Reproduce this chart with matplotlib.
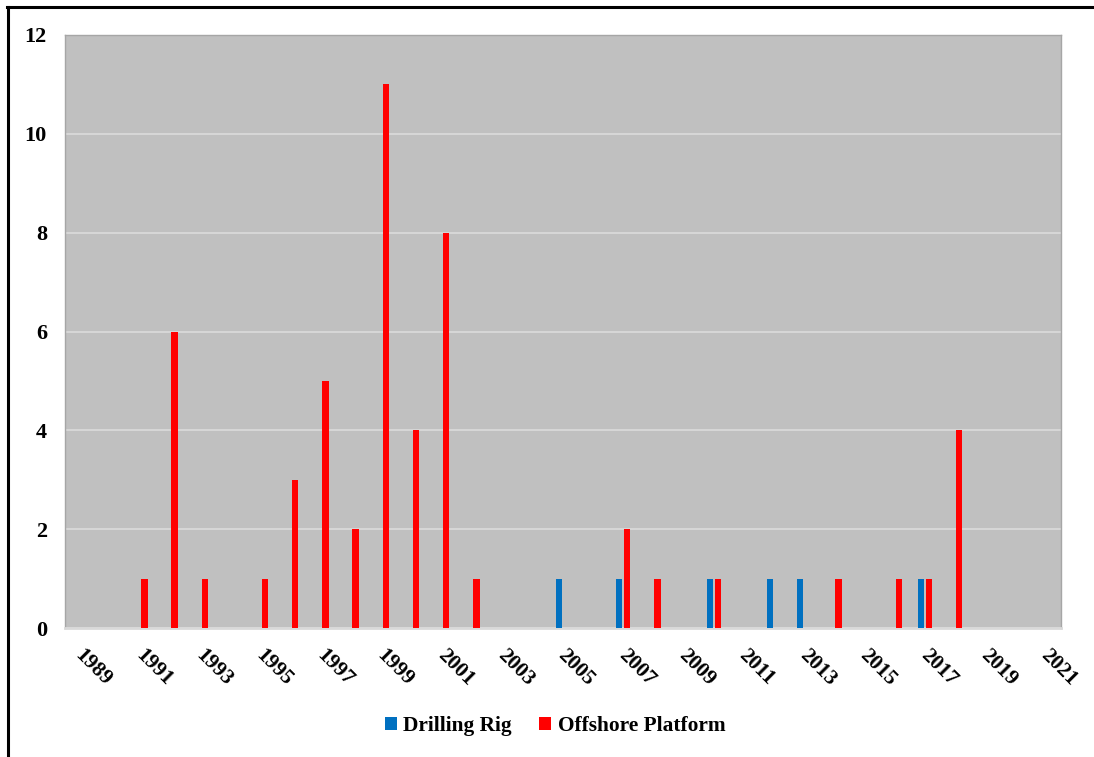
import matplotlib
matplotlib.use("Agg")
import matplotlib.pyplot as plt
from matplotlib.lines import Line2D
from matplotlib.patches import Patch
import numpy as np

years = list(range(1989, 2022))
drilling_rig = {2005: 1, 2007: 1, 2010: 1, 2012: 1, 2013: 1, 2017: 1}
offshore_platform = {1991: 1, 1992: 6, 1993: 1, 1995: 1, 1996: 3, 1997: 5,
                     1998: 2, 1999: 11, 2000: 4, 2001: 8, 2002: 1, 2007: 2,
                     2008: 1, 2010: 1, 2014: 1, 2016: 1, 2017: 1, 2018: 4}
yticks = [0, 2, 4, 6, 8, 10, 12]

rig_vals = [drilling_rig.get(y, 0) for y in years]
plat_vals = [offshore_platform.get(y, 0) for y in years]

plt.rcParams['font.family'] = ['Liberation Serif', 'DejaVu Serif']
plt.rcParams['font.weight'] = 'bold'
FS = 15.4

fig = plt.figure(figsize=(10.94, 7.57), dpi=100)
ax = fig.add_axes([65/1094, 1-628/757, (1061-65)/1094, (628-35)/757])
ax.set_facecolor('#c0c0c0')

x = np.arange(len(years))
w = 0.21
ax.bar(x - 0.14, rig_vals, width=w, color='#0070c0', label='Drilling Rig', zorder=3)
ax.bar(x + 0.13, plat_vals, width=w, color='#ff0000', label='Offshore Platform', zorder=3)

ax.set_xlim(-0.5, len(years) - 0.5)
ax.set_ylim(0, 12)
ax.set_yticks(yticks)
ax.set_yticklabels([str(v) for v in yticks], fontsize=FS + 0.6, fontweight='bold')
ax.yaxis.grid(True, color='#d9d9d9', linewidth=1.3, zorder=0)
ax.set_axisbelow(True)

# x category labels (every other year), rotated like the original
ax.set_xticks(x[::2])
ax.set_xticklabels([])
ax.tick_params(axis='x', length=0)
for xi, yr in zip(x[::2], years[::2]):
    ax.annotate(str(yr), xy=(xi, 0), xycoords=('data', 'axes fraction'),
                xytext=(-6.5, -12.5), textcoords='offset points',
                rotation=-45, ha='left', va='top', fontsize=FS, fontweight='bold')

ax.tick_params(axis='y', length=0, pad=13)

for s in ['left', 'top', 'right']:
    ax.spines[s].set_color('#a6a6a6')
    ax.spines[s].set_linewidth(1.0)
ax.spines['bottom'].set_color('#d9d9d9')
ax.spines['bottom'].set_linewidth(2.0)

handles = [Patch(facecolor='#0070c0', label='Drilling Rig'),
           Patch(facecolor='#ff0000', label='Offshore Platform')]
fig.legend(handles=handles, loc='center', bbox_to_anchor=(555/1094, 1-726/757),
           ncol=2, frameon=False, prop={'family': 'Liberation Serif', 'weight': 'bold', 'size': FS},
           handlelength=0.55, handleheight=0.55, handletextpad=0.3, columnspacing=1.3)

# figure border (top and left)
fig.add_artist(Line2D([7/1094, 1], [1-6.5/757, 1-6.5/757], color='black', linewidth=2.2,
                      transform=fig.transFigure))
fig.add_artist(Line2D([7.5/1094, 7.5/1094], [0, 1-6.5/757], color='black', linewidth=2.2,
                      transform=fig.transFigure))

fig.savefig('out.png', dpi=100)
